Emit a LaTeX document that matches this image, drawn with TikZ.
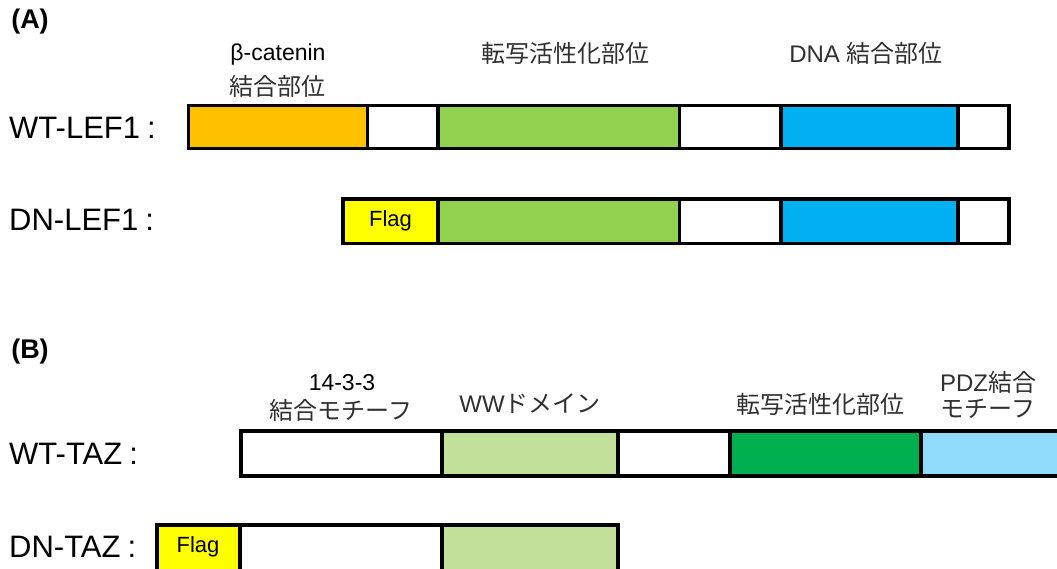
\documentclass[tikz,border=0pt]{standalone}
\usepackage{fontspec}
\setmainfont{Liberation Sans}
\newfontfamily\jp{Noto Sans CJK JP}
\definecolor{cOrange}{HTML}{FFC000}
\definecolor{cGreen}{HTML}{92D050}
\definecolor{cBlue}{HTML}{00B0F0}
\definecolor{cYellow}{HTML}{FFFF00}
\definecolor{cLightGreen}{HTML}{C3E09B}
\definecolor{cDarkGreen}{HTML}{00B050}
\definecolor{cLightBlue}{HTML}{8FDBFC}
\definecolor{jpText}{HTML}{303030}
\newcommand\segbox[6]{%
  \node[segbox, fill=#6, minimum width={(#3-#2)*1pt}, minimum height={(#5-#4)*1pt}] (#1) at (#2,#4) {};}
\newcommand\lblcolon{\hspace{7pt}:}
\begin{document}
\begin{tikzpicture}[x=1pt,y=-1pt,
  segbox/.style={draw, line width=3.4pt, inner sep=0pt, outer sep=0pt, anchor=north west},
  rowlabel/.style={anchor=west, font=\fontsize{31}{33}\selectfont, inner sep=0pt},
  panel/.style={font=\fontsize{27}{29}\selectfont\bfseries, inner sep=0pt},
  lat/.style={font=\fontsize{23}{25}\selectfont, inner sep=0pt},
  jpl/.style={font=\fontsize{24}{26}\jp\selectfont, text=jpText, inner sep=0pt},
  flag/.style={font=\fontsize{22}{24}\selectfont, inner sep=0pt}]
\useasboundingbox (0,0) rectangle (1057,568);
\clip (0,0) rectangle (1057,568);
\fill[white] (0,0) rectangle (1057,568);

% (A)
\node[panel] (pA) at (30,22) {(A)};
\node[lat] (bcat) at (278,55) {β-catenin};
\node[jpl] (bcatb) at (277,86) {結合部位};
\node[jpl] (tadA) at (565,53) {転写活性化部位};
\node[jpl] (dnab) at (866,53) {\fontspec{Liberation Sans}DNA\ \jp 結合部位};

\node[rowlabel] (wtlef) at (9,128) {WT-LEF1\lblcolon};
\segbox{l1}{188.5}{367.5}{105.5}{148.5}{cOrange}
\segbox{l2}{367.5}{438}{105.5}{148.5}{white}
\segbox{l3}{438}{679.5}{105.5}{148.5}{cGreen}
\segbox{l4}{679.5}{781}{105.5}{148.5}{white}
\segbox{l5}{781}{958}{105.5}{148.5}{cBlue}
\segbox{l6}{958}{1009}{105.5}{148.5}{white}

\node[rowlabel] (dnlef) at (9,220) {DN-LEF1\lblcolon};
\segbox{d1}{343}{438}{199}{243.5}{cYellow}
\segbox{d2}{438}{679.5}{199}{243.5}{cGreen}
\segbox{d3}{679.5}{781}{199}{243.5}{white}
\segbox{d4}{781}{958}{199}{243.5}{cBlue}
\segbox{d5}{958}{1009}{199}{243.5}{white}
\node[flag] (flagA) at (d1.center) {Flag};

% (B)
\node[panel] (pB) at (30,352) {(B)};
\node[lat] (t1433) at (342,383) {14-3-3};
\node[jpl] (t1433b) at (341,410) {結合モチーフ};
\node[jpl] (ww) at (530,404) {\fontspec{Liberation Sans}WW\jp ドメイン};
\node[jpl] (tadB) at (820,404) {転写活性化部位};
\node[jpl] (pdz) at (988,382) {\fontspec{Liberation Sans}PDZ\jp 結合};
\node[jpl] (pdzb) at (988,409) {モチーフ};

\node[rowlabel] (wttaz) at (9,454) {WT-TAZ\lblcolon};
\segbox{t1}{241}{442}{431}{476}{white}
\segbox{t2}{442}{618}{431}{476}{cLightGreen}
\segbox{t3}{618}{730}{431}{476}{white}
\segbox{t4}{730}{921}{431}{476}{cDarkGreen}
\segbox{t5}{921}{1075}{431}{476}{cLightBlue}

\node[rowlabel] (dntaz) at (9,547) {DN-TAZ\lblcolon};
\segbox{u1}{157}{240}{525}{572}{cYellow}
\segbox{u2}{240}{442}{525}{572}{white}
\segbox{u3}{442}{618}{525}{572}{cLightGreen}
\node[flag] (flagB) at (198,547) {Flag};
\end{tikzpicture}
\end{document}
